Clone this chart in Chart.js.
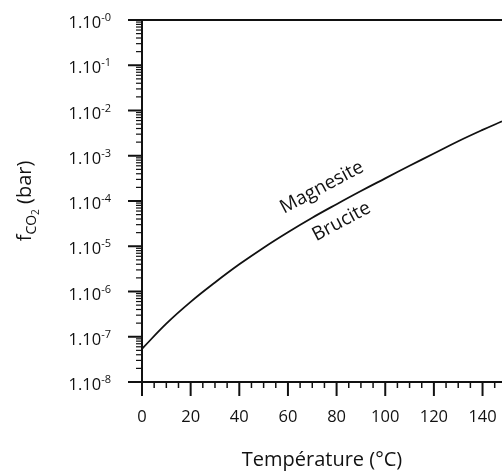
<!DOCTYPE html>
<html lang="fr">
<head>
    <meta charset="UTF-8">
    <title>Magnesite / Brucite - fCO2 vs Température</title>
    <script src="https://cdn.jsdelivr.net/npm/chart.js@4/dist/chart.umd.min.js"></script>
    <style>
        body {
            margin: 0;
            background: #fff;
        }
        .wrap {
            width: 502px;
            height: 474px;
        }
    </style>
</head>
<body>
    <div class="wrap"><canvas id="fco2Chart"></canvas></div>

    <script>
        // Données
        const temperatures = [0, 10, 20, 30, 40, 50, 60, 70, 80, 90, 100, 110, 120, 130, 140, 148];
        const fco2 = [5.4e-8, 1.95e-7, 5.9e-7, 1.58e-6, 3.98e-6, 9.3e-6, 2.04e-5, 4.27e-5,
                      8.5e-5, 1.66e-4, 3.16e-4, 6.0e-4, 1.12e-3, 2.09e-3, 3.72e-3, 5.75e-3];
        const decades = [-8, -7, -6, -5, -4, -3, -2, -1, 0];
        const xTickValues = [0, 20, 40, 60, 80, 100, 120, 140];
        const fieldLabels = ['Magnesite', 'Brucite'];
        const fieldAnchorsT = [74, 82];
        const fieldAnchorsF = [2.0e-4, 3.5e-5];

        const FONT = "'Open Sans', 'Noto Sans', sans-serif";
        const INK = '#111';

        // ticks, labels et titres dessinés à la main (superscripts, indices)
        const axisPainter = {
            id: 'axisPainter',
            afterDraw(chart) {
                const ctx = chart.ctx;
                const xs = chart.scales.x;
                const ys = chart.scales.y;
                const area = chart.chartArea;
                ctx.save();
                ctx.strokeStyle = INK;
                ctx.fillStyle = INK;

                // axe Y : ticks log
                decades.forEach(k => {
                    for (let m = 1; m <= 9; m++) {
                        const v = m * Math.pow(10, k);
                        if (v > 1.0000001) break;
                        const py = ys.getPixelForValue(v);
                        const len = m === 1 ? 14 : 6;
                        ctx.lineWidth = m === 1 ? 2 : 1.2;
                        ctx.beginPath();
                        ctx.moveTo(area.left - len, py);
                        ctx.lineTo(area.left, py);
                        ctx.stroke();
                    }
                    const py = ys.getPixelForValue(Math.pow(10, k));
                    const sup = '-' + Math.abs(k);
                    ctx.font = '11px ' + FONT;
                    const sw = ctx.measureText(sup).width;
                    const right = area.left - 31;
                    ctx.textAlign = 'left';
                    ctx.textBaseline = 'alphabetic';
                    ctx.fillText(sup, right - sw, py + 1);
                    ctx.font = '16.5px ' + FONT;
                    ctx.textAlign = 'right';
                    ctx.fillText('1.10', right - sw, py + 8);
                });

                // axe X : ticks tous les 5
                for (let t = 0; t <= xs.max; t += 5) {
                    const px = xs.getPixelForValue(t);
                    const major = t % 20 === 0;
                    ctx.lineWidth = major ? 2 : 1.5;
                    ctx.beginPath();
                    ctx.moveTo(px, area.bottom);
                    ctx.lineTo(px, area.bottom + (major ? 14 : 6));
                    ctx.stroke();
                }
                ctx.font = '16.5px ' + FONT;
                ctx.textAlign = 'center';
                ctx.textBaseline = 'middle';
                xTickValues.forEach(t => {
                    ctx.fillText(String(t), xs.getPixelForValue(t), area.bottom + 35);
                });

                // titre X
                ctx.font = '20px ' + FONT;
                ctx.fillText('Température (°C)', (area.left + area.right) / 2, 460);

                // titre Y : f + CO2 en indice + (bar)
                const parts = [
                    { t: 'f', f: '20px ', dy: 0 },
                    { t: 'CO', f: '14px ', dy: 5 },
                    { t: '2', f: '10px ', dy: 8 },
                    { t: ' (bar)', f: '20px ', dy: 0 }
                ];
                let total = 0;
                parts.forEach(p => { ctx.font = p.f + FONT; p.w = ctx.measureText(p.t).width; total += p.w; });
                ctx.translate(31, (area.top + area.bottom) / 2);
                ctx.rotate(-Math.PI / 2);
                ctx.textAlign = 'left';
                ctx.textBaseline = 'alphabetic';
                let cx = -total / 2;
                parts.forEach(p => {
                    ctx.font = p.f + FONT;
                    ctx.fillText(p.t, cx, p.dy);
                    cx += p.w;
                });
                ctx.restore();

                // étiquettes des champs de stabilité
                ctx.save();
                ctx.fillStyle = INK;
                ctx.font = '19px ' + FONT;
                ctx.textAlign = 'center';
                ctx.textBaseline = 'middle';
                fieldLabels.forEach((lab, i) => {
                    ctx.save();
                    ctx.translate(xs.getPixelForValue(fieldAnchorsT[i]), ys.getPixelForValue(fieldAnchorsF[i]));
                    ctx.rotate(-28 * Math.PI / 180);
                    ctx.fillText(lab, 0, 0);
                    ctx.restore();
                });
                ctx.restore();
            }
        };

        const ctx1 = document.getElementById('fco2Chart').getContext('2d');
        new Chart(ctx1, {
            type: 'line',
            data: {
                datasets: [{
                    data: temperatures.map((t, i) => ({ x: t, y: fco2[i] })),
                    borderColor: INK,
                    borderWidth: 1.8,
                    pointRadius: 0,
                    tension: 0.4,
                    fill: false
                }]
            },
            options: {
                responsive: true,
                maintainAspectRatio: false,
                animation: false,
                layout: {
                    padding: { left: 134, top: 12, right: 0, bottom: 84 }
                },
                plugins: {
                    legend: { display: false },
                    tooltip: { enabled: false }
                },
                scales: {
                    x: {
                        type: 'linear',
                        position: 'bottom',
                        min: 0,
                        max: 148,
                        ticks: { display: false },
                        grid: { display: false },
                        border: { display: true, width: 2, color: INK }
                    },
                    xTop: {
                        type: 'linear',
                        position: 'top',
                        min: 0,
                        max: 148,
                        ticks: { display: false },
                        grid: { display: false },
                        border: { display: true, width: 2, color: INK }
                    },
                    y: {
                        type: 'logarithmic',
                        min: 1e-8,
                        max: 1,
                        ticks: { display: false },
                        grid: { display: false },
                        border: { display: true, width: 2, color: INK }
                    }
                }
            },
            plugins: [axisPainter]
        });
    </script>
</body>
</html>
